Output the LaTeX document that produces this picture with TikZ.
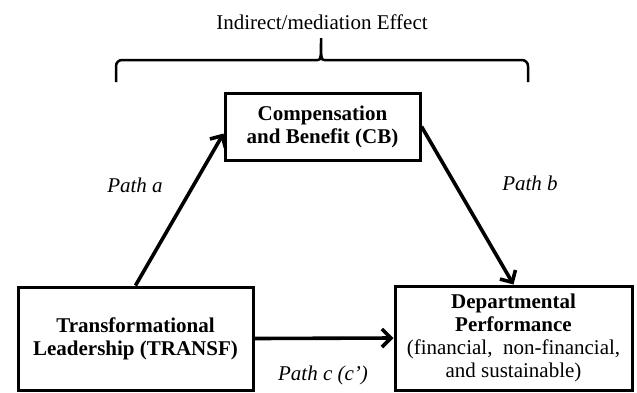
\documentclass[tikz,border=0pt]{standalone}
\usepackage{fontspec}
\setmainfont{Liberation Serif}
\usetikzlibrary{arrows.meta}
\tikzset{
 varbox/.style={draw,line width=3pt,align=center,inner sep=0pt,font=\fontsize{21}{23}\selectfont},
 patharrow/.style={line width=3.6pt,-{Straight Barb[length=9pt,width=18pt]}},
 pathlabel/.style={font=\fontsize{21}{23}\selectfont\itshape}
}
\begin{document}
\begin{tikzpicture}[x=1pt,y=-1pt]
 \useasboundingbox (0,0) rectangle (637,392);
 \node[font=\fontsize{21}{23}\selectfont] (effect) at (322,22) {Indirect/mediation Effect};
 \draw[line width=2.5pt,rounded corners=6pt] (116,82) -- (116,60) -- (318,60);
 \draw[line width=2.5pt] (318,60) .. controls (321,60) and (321,57) .. (321,38) .. controls (321,57) and (321,60) .. (324,60);
 \draw[line width=2.5pt,rounded corners=6pt] (324,60) -- (528,60) -- (528,82);
 \node[varbox,minimum width=195pt,minimum height=67pt,font=\fontsize{21}{23}\selectfont\bfseries] (cb) at (322.5,126.5) {Compensation\\and Benefit (CB)};
 \node[varbox,minimum width=235pt,minimum height=103pt,font=\fontsize{21}{23}\selectfont\bfseries] (transf) at (135.5,338.5) {Transformational\\Leadership (TRANSF)};
 \node[varbox,minimum width=237pt,minimum height=104pt] (dp) at (513.5,338) {\textbf{Departmental}\\\textbf{Performance}\\(financial,\ \ non-financial,\\and sustainable)};
 \draw[patharrow] (transf.north) -- ([yshift=-7pt]cb.west);
 \draw[patharrow] (cb.east) -- (dp.north);
 \draw[patharrow] (transf.east) -- (dp.west);
 \node[pathlabel] (patha) at (135,185) {Path a};
 \node[pathlabel] (pathb) at (530,183) {Path b};
 \node[pathlabel] (pathc) at (323,375) {Path c (c’)};
\end{tikzpicture}
\end{document}
